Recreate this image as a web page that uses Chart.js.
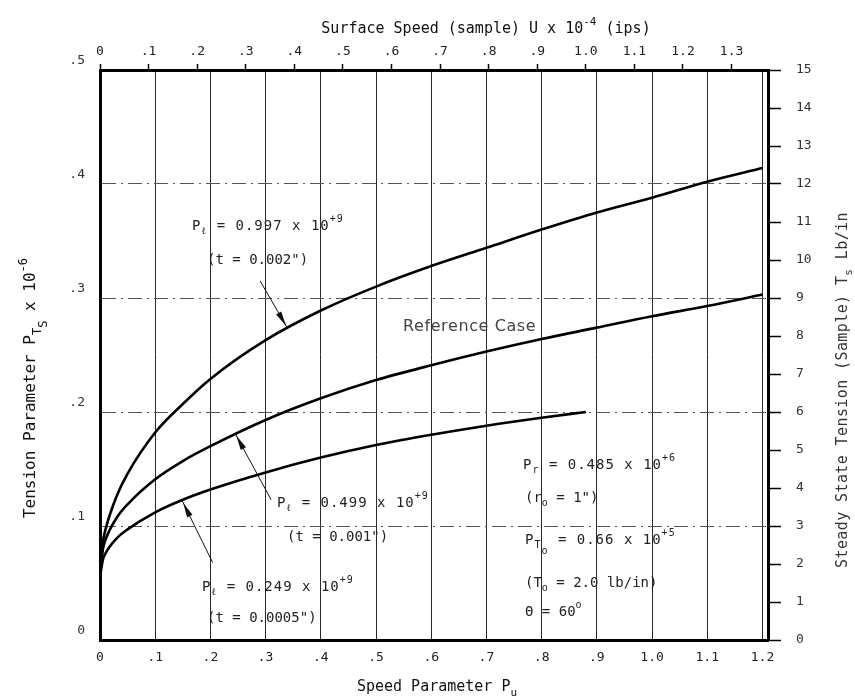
<!DOCTYPE html>
<html><head><meta charset="utf-8">
<script src="https://cdn.jsdelivr.net/npm/chart.js@4.4.0/dist/chart.umd.min.js"></script>
<style>html,body{margin:0;padding:0;background:#fff;}canvas{display:block;}</style>
</head><body>
<canvas id="c" width="855" height="700"></canvas>
<script>
// ---- tick labels / axis values ----
const speedTicks   = [0, 0.1, 0.2, 0.3, 0.4, 0.5, 0.6, 0.7, 0.8, 0.9, 1.0, 1.1, 1.2];
const surfaceTicks = [0, 0.1, 0.2, 0.3, 0.4, 0.5, 0.6, 0.7, 0.8, 0.9, 1.0, 1.1, 1.2, 1.3];
const tensionTicks = [0, 0.1, 0.2, 0.3, 0.4, 0.5];
const steadyTicks  = [0, 1, 2, 3, 4, 5, 6, 7, 8, 9, 10, 11, 12, 13, 14, 15];

// ---- series (speed parameter Pu  ->  tension parameter P_Ts x 1e-6) ----
const puThick  = [0, 0.005, 0.01, 0.03, 0.05, 0.1, 0.15, 0.2, 0.3, 0.4, 0.5, 0.6, 0.7, 0.8, 0.9, 1.0, 1.1, 1.2];
const ptsThick = [0.055, 0.085, 0.097, 0.126, 0.146, 0.182, 0.207, 0.229, 0.263, 0.289, 0.310, 0.328, 0.344, 0.360, 0.375, 0.388, 0.402, 0.414];
const puRef    = [0, 0.005, 0.01, 0.03, 0.05, 0.1, 0.15, 0.2, 0.3, 0.4, 0.5, 0.6, 0.7, 0.8, 0.9, 1.0, 1.1, 1.2];
const ptsRef   = [0.055, 0.079, 0.088, 0.107, 0.119, 0.141, 0.157, 0.170, 0.193, 0.212, 0.228, 0.241, 0.253, 0.264, 0.274, 0.284, 0.293, 0.303];
const puThin   = [0, 0.005, 0.01, 0.03, 0.05, 0.1, 0.15, 0.2, 0.3, 0.4, 0.5, 0.6, 0.7, 0.8, 0.88];
const ptsThin  = [0.055, 0.070, 0.076, 0.089, 0.097, 0.112, 0.123, 0.132, 0.147, 0.160, 0.171, 0.180, 0.188, 0.195, 0.200];

// ---- leader arrows (data units: tail -> head on curve) ----
const leaderTails = [[0.29, 0.315], [0.31, 0.123], [0.204, 0.068]];
const leaderHeads = [[0.339, 0.274], [0.245, 0.181], [0.149, 0.122]];

const MONO = '"DejaVu Sans Mono", monospace';
const SANS = '"DejaVu Sans", sans-serif';

function pts(xs, ys) { return xs.map((v, i) => ({ x: v, y: ys[i] })); }
function fmtDec(v) {
  if (Math.abs(v) < 1e-9) return '0';
  if (v < 0.999) return '.' + Math.round(v * 10);
  return v.toFixed(1);
}
function setTicks(arr) { return s => { s.ticks = arr.map(v => ({ value: v })); }; }

function rich(ctx, segs, x, y, size, family, align, spacing, weight) {
  weight = weight || 'normal';
  spacing = spacing || 0;
  ctx.letterSpacing = spacing + 'px';
  const parts = segs.map(([t, k]) => {
    const sz = k === 'n' ? size : Math.round(size * 0.72);
    ctx.font = `${weight} ${sz}px ${family}`;
    return { t, k, sz, w: ctx.measureText(t).width };
  });
  const total = parts.reduce((a, p) => a + p.w, 0);
  let cx = align === 'center' ? x - total / 2 : x;
  ctx.textBaseline = 'middle';
  ctx.textAlign = 'left';
  for (const p of parts) {
    ctx.font = `${weight} ${p.sz}px ${family}`;
    const dy = p.k === 'sup' ? -size * 0.45 : p.k === 'sub' ? size * 0.42 : p.k === 'sub2' ? size * 0.8 : 0;
    ctx.fillText(p.t, cx, y + dy);
    cx += p.w;
  }
  ctx.letterSpacing = '0px';
}

const annotations = [
  { segs: [['P', 'n'], ['ℓ', 'sub'], [' = 0.997 x 10', 'n'], ['+9', 'sup']], x: 192, y: 226, sp: 1 },
  { segs: [['(t = 0.002")', 'n']], x: 207, y: 260, sp: 0 },
  { segs: [['P', 'n'], ['ℓ', 'sub'], [' = 0.499 x 10', 'n'], ['+9', 'sup']], x: 277, y: 503, sp: 1 },
  { segs: [['(t = 0.001")', 'n']], x: 287, y: 537, sp: 0 },
  { segs: [['P', 'n'], ['ℓ', 'sub'], [' = 0.249 x 10', 'n'], ['+9', 'sup']], x: 202, y: 587, sp: 1 },
  { segs: [['(t = 0.0005")', 'n']], x: 207, y: 618, sp: 0 },
  { segs: [['P', 'n'], ['r', 'sub'], [' = 0.485 x 10', 'n'], ['+6', 'sup']], x: 523, y: 465, sp: 1 },
  { segs: [['(r', 'n'], ['o', 'sub'], [' = 1")', 'n']], x: 525, y: 498, sp: 0 },
  { segs: [['P', 'n'], ['T', 'sub'], ['o', 'sub2'], [' = 0.66 x 10', 'n'], ['+5', 'sup']], x: 525, y: 540, sp: 1 },
  { segs: [['(T', 'n'], ['o', 'sub'], [' = 2.0 lb/in)', 'n']], x: 525, y: 583, sp: 0 },
  { segs: [['Θ = 60', 'n'], ['o', 'sup']], x: 525, y: 612, sp: 0 }
];

const annotPlugin = {
  id: 'annot',
  afterDraw(chart) {
    const { ctx, scales: { x, y } } = chart;
    ctx.save();
    // leader lines with arrowheads
    ctx.strokeStyle = '#111'; ctx.fillStyle = '#111'; ctx.lineWidth = 1;
    for (let i = 0; i < leaderTails.length; i++) {
      const x1 = x.getPixelForValue(leaderTails[i][0]), y1 = y.getPixelForValue(leaderTails[i][1]);
      const x2 = x.getPixelForValue(leaderHeads[i][0]), y2 = y.getPixelForValue(leaderHeads[i][1]);
      ctx.beginPath(); ctx.moveTo(x1, y1); ctx.lineTo(x2, y2); ctx.stroke();
      const a = Math.atan2(y2 - y1, x2 - x1);
      const tx = x2 - 2 * Math.cos(a), ty = y2 - 2 * Math.sin(a);
      const L = 15, W = 3;
      ctx.beginPath();
      ctx.moveTo(tx, ty);
      ctx.lineTo(tx - L * Math.cos(a) + W * Math.sin(a), ty - L * Math.sin(a) - W * Math.cos(a));
      ctx.lineTo(tx - L * Math.cos(a) - W * Math.sin(a), ty - L * Math.sin(a) + W * Math.cos(a));
      ctx.closePath(); ctx.fill();
    }
    // annotation texts
    ctx.fillStyle = '#222';
    for (const a of annotations) rich(ctx, a.segs, a.x, a.y, 14, MONO, 'left', a.sp);
    ctx.font = `16px ${SANS}`;
    ctx.letterSpacing = '0.6px';
    ctx.textBaseline = 'middle'; ctx.textAlign = 'left';
    ctx.fillStyle = '#444';
    ctx.fillText('Reference Case', 403, 327);
    ctx.letterSpacing = '0px';
    // axis titles
    ctx.fillStyle = '#111';
    rich(ctx, [['Surface Speed (sample) U x 10', 'n'], ['-4', 'sup'], [' (ips)', 'n']], 486, 29, 15, MONO, 'center');
    rich(ctx, [['Speed Parameter P', 'n'], ['u', 'sub']], 437, 687, 15, MONO, 'center');
    ctx.save();
    ctx.translate(31, 388); ctx.rotate(-Math.PI / 2);
    rich(ctx, [['Tension Parameter P', 'n'], ['T', 'sub'], ['S', 'sub2'], [' x 10', 'n'], ['-6', 'sup']], 0, 0, 16, MONO, 'center');
    ctx.restore();
    ctx.save();
    ctx.translate(843, 390); ctx.rotate(-Math.PI / 2);
    ctx.fillStyle = '#333';
    rich(ctx, [['Steady State Tension (Sample) T', 'n'], ['s', 'sub'], [' Lb/in', 'n']], 0, 0, 15, MONO, 'center', 0.4);
    ctx.restore();
    ctx.restore();
  }
};

const tickFont = { family: MONO, size: 13 };

new Chart(document.getElementById('c'), {
  type: 'line',
  data: {
    datasets: [
      { label: 'Pl = 0.997e9 (t = 0.002")', data: pts(puThick, ptsThick), xAxisID: 'x', yAxisID: 'y' },
      { label: 'Reference Case (Pl = 0.499e9, t = 0.001")', data: pts(puRef, ptsRef), xAxisID: 'x', yAxisID: 'y' },
      { label: 'Pl = 0.249e9 (t = 0.0005")', data: pts(puThin, ptsThin), xAxisID: 'x', yAxisID: 'y' }
    ]
  },
  options: {
    responsive: false,
    animation: false,
    devicePixelRatio: 1,
    layout: { padding: 0 },
    elements: {
      line: { borderColor: '#000', borderWidth: 2.6, cubicInterpolationMode: 'monotone', fill: false },
      point: { radius: 0 }
    },
    plugins: { legend: { display: false }, tooltip: { enabled: false } },
    scales: {
      x: {
        type: 'linear', position: 'bottom', min: 0, max: 1.21,
        afterBuildTicks: setTicks(speedTicks),
        afterFit: s => { s.height = 60; },
        grid: { color: '#2a2a2a', lineWidth: 1, drawTicks: false },
        border: { display: true, color: '#000', width: 3 },
        ticks: { padding: 10, font: tickFont, color: '#222', callback: fmtDec, maxRotation: 0, autoSkip: false }
      },
      x2: {
        type: 'linear', position: 'top', min: 0, max: 1.375,
        afterBuildTicks: setTicks(surfaceTicks),
        afterFit: s => { s.height = 70; },
        grid: { drawOnChartArea: false, drawTicks: true, tickLength: 6, color: '#000', tickWidth: 1.5 },
        border: { display: true, color: '#000', width: 3 },
        ticks: { padding: 5, font: tickFont, color: '#222', callback: fmtDec, maxRotation: 0, autoSkip: false }
      },
      y: {
        type: 'linear', position: 'left', min: 0, max: 0.5,
        afterBuildTicks: setTicks(tensionTicks),
        afterFit: s => { s.width = 100; },
        grid: { color: '#555', lineWidth: 1, drawTicks: false },
        border: { display: true, color: '#000', width: 3, dash: [14, 5, 2, 5] },
        ticks: { padding: 15, labelOffset: -9, font: tickFont, color: '#333', callback: fmtDec, autoSkip: false }
      },
      y2: {
        type: 'linear', position: 'right', min: 0, max: 15,
        afterBuildTicks: setTicks(steadyTicks),
        afterFit: s => { s.width = 87; },
        grid: { drawOnChartArea: false, drawTicks: true, tickLength: 13, color: '#000', tickWidth: 1.5 },
        border: { display: true, color: '#000', width: 3 },
        ticks: { padding: 15, font: tickFont, color: '#333', autoSkip: false, callback: v => String(v) }
      }
    }
  },
  plugins: [annotPlugin]
});
</script>
</body></html>
